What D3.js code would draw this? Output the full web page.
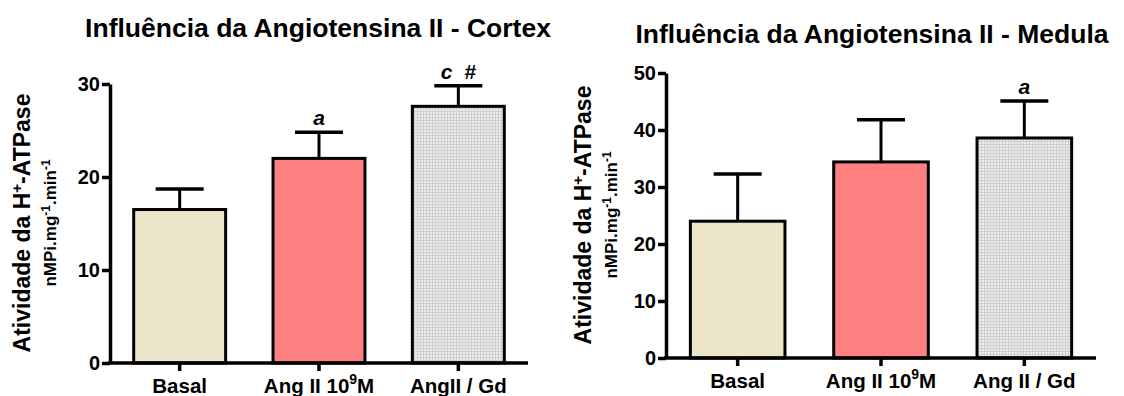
<!DOCTYPE html>
<html>
<head>
    <title>Angiotensina II</title>
    <script src="https://d3js.org/d3.v7.min.js"></script>
    <style>
        body { margin: 0; background: #fff; }
        svg { display: block; font-family: "Liberation Sans", Arial, sans-serif; font-weight: bold; }
        .axis path, .axis line { stroke: #000; stroke-width: 3.5; }
        .axis text { fill: #000; font-size: 20px; font-weight: bold; }
    </style>
</head>
<body>
    <svg width="1124" height="396" id="chart"></svg>

    <script>
        // Data
        const cortexCategories = ["Basal", "Ang II 10|9|M", "AngII / Gd"];
        const cortexMeans = [16.5, 22.0, 27.6];
        const cortexErrors = [2.2, 2.8, 2.2];
        const cortexMarks = ["", "a", "c  #"];
        const cortexTicks = [0, 10, 20, 30];

        const medulaCategories = ["Basal", "Ang II 10|9|M", "Ang II / Gd"];
        const medulaMeans = [24.0, 34.4, 38.6];
        const medulaErrors = [8.3, 7.4, 6.5];
        const medulaMarks = ["", "", "a"];
        const medulaTicks = [0, 10, 20, 30, 40, 50];

        const barFills = ["#ebe5c9", "#ff8080", "url(#dots)"];

        const svg = d3.select("#chart");

        // dotted grey fill for the third bar
        const pat = svg.append("defs").append("pattern")
            .attr("id", "dots")
            .attr("width", 3).attr("height", 3)
            .attr("patternUnits", "userSpaceOnUse");
        pat.append("rect").attr("width", 3).attr("height", 3).attr("fill", "#ececec");
        pat.append("rect").attr("width", 3).attr("height", 1).attr("fill", "#cfcfcf");
        pat.append("rect").attr("width", 1).attr("height", 3).attr("fill", "#cfcfcf");

        function drawPanel(opt) {
            const g = svg.append("g");

            const x = d3.scaleBand()
                .domain(opt.categories)
                .range([opt.left, opt.right])
                .paddingInner(0.34)
                .paddingOuter(0.17);

            const y = d3.scaleLinear()
                .domain([0, opt.max])
                .range([opt.bottom, opt.top]);

            // title
            g.append("text")
                .attr("x", opt.titleX).attr("y", opt.titleY)
                .attr("text-anchor", "middle")
                .attr("font-size", "26.5px")
                .text(opt.title);

            // y axis titles
            const yt = g.append("text")
                .attr("transform", `translate(${opt.labelX},${opt.labelY}) rotate(-90)`)
                .attr("text-anchor", "middle")
                .attr("font-size", "23px");
            yt.append("tspan").text("Atividade da H");
            yt.append("tspan").attr("dy", -8).attr("font-size", "15px").text("+");
            yt.append("tspan").attr("dy", 8).text("-ATPase");

            const ys = g.append("text")
                .attr("transform", `translate(${opt.labelX + 26},${opt.labelY}) rotate(-90)`)
                .attr("text-anchor", "middle")
                .attr("font-size", "17px");
            ys.append("tspan").text("nMPi.mg");
            ys.append("tspan").attr("dy", -6).attr("font-size", "12px").text("-1");
            ys.append("tspan").attr("dy", 6).text(".min");
            ys.append("tspan").attr("dy", -6).attr("font-size", "12px").text("-1");

            // bars
            g.selectAll(".bar")
                .data(opt.means)
                .enter().append("rect")
                .attr("class", "bar")
                .attr("x", (d, i) => x(opt.categories[i]))
                .attr("y", d => y(d))
                .attr("width", x.bandwidth())
                .attr("height", d => y(0) - y(d))
                .attr("fill", (d, i) => barFills[i])
                .attr("stroke", "#000")
                .attr("stroke-width", 3);

            // error bars (upper only)
            const cx = i => x(opt.categories[i]) + x.bandwidth() / 2;
            g.selectAll(".err")
                .data(opt.means)
                .enter().append("line")
                .attr("x1", (d, i) => cx(i)).attr("x2", (d, i) => cx(i))
                .attr("y1", d => y(d))
                .attr("y2", (d, i) => y(d + opt.errors[i]))
                .attr("stroke", "#000").attr("stroke-width", 3);
            g.selectAll(".cap")
                .data(opt.means)
                .enter().append("line")
                .attr("x1", (d, i) => cx(i) - 24).attr("x2", (d, i) => cx(i) + 24)
                .attr("y1", (d, i) => y(d + opt.errors[i]))
                .attr("y2", (d, i) => y(d + opt.errors[i]))
                .attr("stroke", "#000").attr("stroke-width", 3.5);

            // significance letters
            g.selectAll(".mark")
                .data(opt.marks)
                .enter().append("text")
                .attr("x", (d, i) => cx(i))
                .attr("y", (d, i) => y(opt.means[i] + opt.errors[i]) - 7)
                .attr("text-anchor", "middle")
                .attr("font-size", "21px")
                .attr("font-style", "italic")
                .attr("xml:space", "preserve")
                .text(d => d);

            // axes
            g.append("g")
                .attr("class", "axis")
                .attr("transform", `translate(${opt.left},0)`)
                .call(d3.axisLeft(y).tickValues(opt.ticks).tickSize(8).tickPadding(2).tickSizeOuter(0));

            const xa = g.append("g")
                .attr("class", "axis")
                .attr("transform", `translate(0,${opt.bottom})`)
                .call(d3.axisBottom(x).tickSize(8).tickSizeOuter(0));
            xa.select(".domain").attr("d", `M${opt.left - 2},0H${opt.right}`);
            xa.selectAll(".tick text").remove();

            // category labels with superscript
            opt.categories.forEach((c, i) => {
                const parts = c.split("|");
                const t = g.append("text")
                    .attr("x", cx(i)).attr("y", opt.bottom + 30)
                    .attr("text-anchor", "middle")
                    .attr("font-size", "20.5px");
                t.append("tspan").text(parts[0]);
                if (parts.length > 1) {
                    t.append("tspan").attr("dx", 0).attr("dy", -9).attr("font-size", "14px").text(parts[1]);
                    t.append("tspan").attr("dy", 9).text(parts[2]);
                }
            });
        }

        drawPanel({
            title: "Influência da Angiotensina II - Cortex",
            titleX: 318, titleY: 37,
            labelX: 30, labelY: 223,
            left: 110, right: 528, top: 84, bottom: 363, max: 30,
            categories: cortexCategories, means: cortexMeans, errors: cortexErrors,
            marks: cortexMarks, ticks: cortexTicks
        });

        drawPanel({
            title: "Influência da Angiotensina II - Medula",
            titleX: 872, titleY: 43,
            labelX: 591, labelY: 215,
            left: 666, right: 1096, top: 73, bottom: 358, max: 50,
            categories: medulaCategories, means: medulaMeans, errors: medulaErrors,
            marks: medulaMarks, ticks: medulaTicks
        });
    </script>
</body>
</html>
